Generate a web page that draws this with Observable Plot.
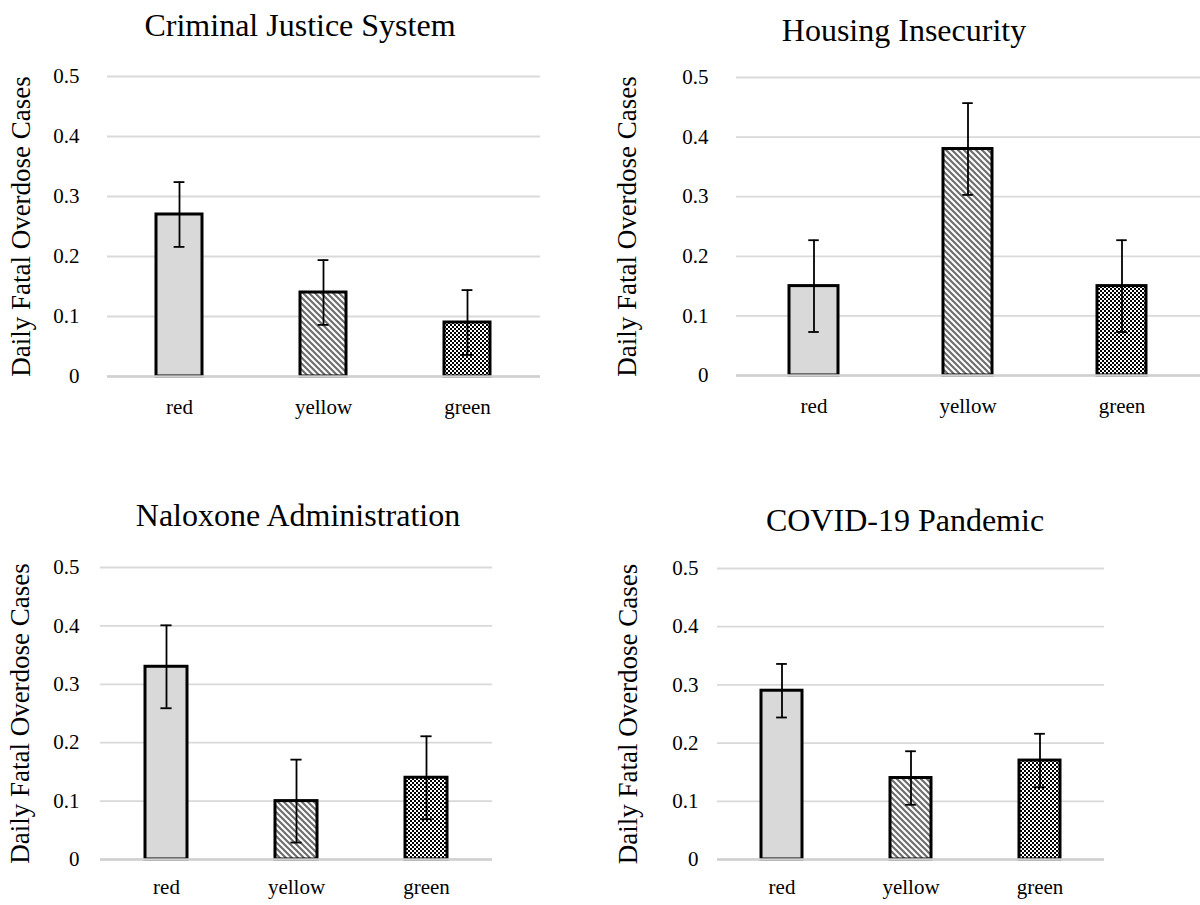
<!DOCTYPE html>
<html><head><meta charset="utf-8">
<script src="https://cdn.jsdelivr.net/npm/d3@7"></script>
<script src="https://cdn.jsdelivr.net/npm/@observablehq/plot@0.6"></script>
<style>
body{margin:0;background:#fff;}
#wrap{position:relative;width:1200px;height:905px;overflow:hidden;background:#fff;font-family:"Liberation Serif",serif;}
#wrap svg, #wrap svg text{font-family:"Liberation Serif",serif !important;}
.title{position:absolute;font-family:"Liberation Serif",serif;font-size:32px;line-height:1;color:#000;white-space:nowrap;transform:translateX(-50%);}
.panel{position:absolute;}
</style></head><body><div id="wrap"></div>
<script>
// ---- data ----
const categories = ["red", "yellow", "green"];
const panelTitles = ["Criminal Justice System", "Housing Insecurity", "Naloxone Administration", "COVID-19 Pandemic"];
const yTicks = [0, 0.1, 0.2, 0.3, 0.4, 0.5];
const yTickLabels = ["0", "0.1", "0.2", "0.3", "0.4", "0.5"];
const yTitle = "Daily Fatal Overdose Cases";
const cjsMean = [0.27, 0.14, 0.09];
const cjsErr = [0.054, 0.054, 0.054];
const hiMean = [0.15, 0.38, 0.15];
const hiErr = [0.077, 0.077, 0.077];
const naMean = [0.33, 0.10, 0.14];
const naErr = [0.071, 0.071, 0.071];
const covMean = [0.29, 0.14, 0.17];
const covErr = [0.046, 0.046, 0.046];

// ---- layout ----
const layouts = [
  {left: 0,   top: 50,  width: 560, height: 380, ml: 107, mr: 20, mt: 26, mb: 54, tp: 28, xtp: 23, yTitleX: 21,  titleX: 300, titleBase: 36},
  {left: 600, top: 50,  width: 600, height: 379, ml: 136, mr: 0,  mt: 27, mb: 54, tp: 28, xtp: 23, yTitleX: 27,  titleX: 904, titleBase: 41},
  {left: 0,   top: 530, width: 520, height: 375, ml: 100, mr: 28, mt: 37, mb: 46, tp: 21, xtp: 20, yTitleX: 20,  titleX: 298, titleBase: 526},
  {left: 600, top: 530, width: 600, height: 375, ml: 117, mr: 96, mt: 38, mb: 46, tp: 19, xtp: 20, yTitleX: 28,  titleX: 905, titleBase: 531}
];
const series = [[cjsMean, cjsErr], [hiMean, hiErr], [naMean, naErr], [covMean, covErr]];

const wrap = document.getElementById("wrap");

series.forEach(([mean, err], i) => {
  const cfg = layouts[i];
  const data = categories.map((c, j) => ({cat: c, v: mean[j], lo: mean[j] - err[j], hi: mean[j] + err[j]}));
  const plotW = cfg.width - cfg.ml - cfg.mr;
  const bw = plotW / 3 * (1 - 0.68);
  const capInset = (bw - 11) / 2;
  const fills = {red: "#d9d9d9", yellow: `url(#stripe${i})`, green: `url(#check${i})`};
  const chart = Plot.plot({
    width: cfg.width, height: cfg.height,
    marginLeft: cfg.ml, marginRight: cfg.mr, marginTop: cfg.mt, marginBottom: cfg.mb,
    style: {fontFamily: "Liberation Serif", fontSize: "21px", color: "#000", background: "transparent", overflow: "visible"},
    x: {domain: categories, paddingInner: 0.68, paddingOuter: 0.34, label: null, tickSize: 0, tickPadding: cfg.xtp},
    y: {domain: [0, 0.5], ticks: yTicks, tickFormat: d => yTickLabels[yTicks.indexOf(d)], tickSize: 0, tickPadding: cfg.tp, label: null},
    marks: [
      Plot.ruleY(yTicks, {stroke: "#d9d9d9", strokeWidth: 1.8}),
      ...categories.map(c => Plot.barY(data, {filter: d => d.cat === c, x: "cat", y: "v", fill: fills[c], stroke: "#000", strokeWidth: 3})),
      Plot.ruleY([0], {stroke: "#d0d0d0", strokeWidth: 2.4}),
      Plot.ruleX(data, {x: "cat", y1: "lo", y2: "hi", stroke: "#000", strokeWidth: 1.8}),
      Plot.tickY(data, {x: "cat", y: "lo", stroke: "#000", strokeWidth: 1.8, insetLeft: capInset, insetRight: capInset}),
      Plot.tickY(data, {x: "cat", y: "hi", stroke: "#000", strokeWidth: 1.8, insetLeft: capInset, insetRight: capInset}),
      Plot.text([yTitle], {text: d => d, frameAnchor: "left", textAnchor: "middle", lineAnchor: "middle", rotate: -90, dx: cfg.yTitleX - cfg.ml, fontSize: 27, fontFamily: "Liberation Serif", fill: "#000"})
    ]
  });
  d3.select(chart).insert("defs", ":first-child").html(`
    <pattern id="stripe${i}" patternUnits="userSpaceOnUse" width="6" height="6">
      <rect width="6" height="6" fill="#fff"/>
      <path d="M-1,-1 L7,7 M-1,5 L1,7 M5,-1 L7,1" stroke="#6e6e6e" stroke-width="2.2"/>
    </pattern>
    <pattern id="check${i}" patternUnits="userSpaceOnUse" width="4" height="4">
      <rect width="4" height="4" fill="#fff"/>
      <rect width="2" height="2" fill="#000"/>
      <rect x="2" y="2" width="2" height="2" fill="#000"/>
    </pattern>`);
  const holder = document.createElement("div");
  holder.className = "panel";
  holder.style.left = cfg.left + "px";
  holder.style.top = cfg.top + "px";
  holder.appendChild(chart);
  wrap.appendChild(holder);

  const t = document.createElement("div");
  t.className = "title";
  t.textContent = panelTitles[i];
  t.style.left = cfg.titleX + "px";
  t.style.top = (cfg.titleBase - 0.8375 * 32) + "px";
  wrap.appendChild(t);
});
</script>
</body></html>
